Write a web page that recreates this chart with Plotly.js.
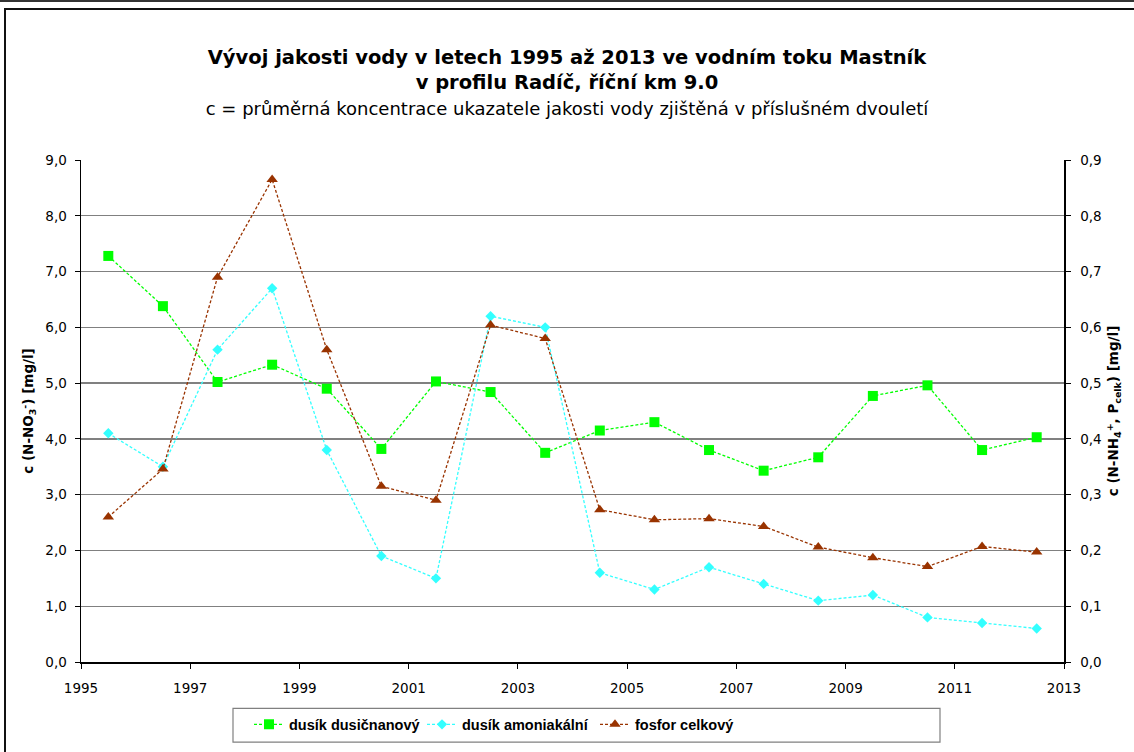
<!DOCTYPE html>
<html>
<head>
<meta charset="utf-8">
<script src="https://cdn.plot.ly/plotly-3.0.1.min.js"></script>
<style>
  html, body { margin: 0; padding: 0; background: #fff; }
  #chart { width: 1134px; height: 752px; position: absolute; left: 0; top: 0; }
  #topline { position: absolute; left: 0; top: 0; width: 1134px; height: 2px; background: #333; pointer-events: none; }
  #frame { position: absolute; left: 4px; top: 8px; width: 1140px; height: 760px; border: 2px solid #111; pointer-events: none; }
</style>
</head>
<body>
<div id="chart"></div>
<div id="topline"></div>
<div id="frame"></div>
<script>
// Data
const years = [1995.5, 1996.5, 1997.5, 1998.5, 1999.5, 2000.5, 2001.5, 2002.5, 2003.5,
               2004.5, 2005.5, 2006.5, 2007.5, 2008.5, 2009.5, 2010.5, 2011.5, 2012.5];
const dusikDusicnanovy = [7.28, 6.38, 5.02, 5.33, 4.90, 3.82, 5.03, 4.84, 3.75,
                          4.15, 4.30, 3.80, 3.43, 3.67, 4.77, 4.96, 3.80, 4.03];
const dusikAmoniakalni = [0.41, 0.35, 0.56, 0.67, 0.38, 0.19, 0.15, 0.62, 0.60,
                          0.16, 0.13, 0.17, 0.14, 0.11, 0.12, 0.08, 0.07, 0.06];
const fosforCelkovy = [0.26, 0.346, 0.69, 0.865, 0.56, 0.315, 0.29, 0.604, 0.58,
                       0.273, 0.255, 0.257, 0.243, 0.206, 0.187, 0.171, 0.207, 0.197];
const seriesNames = ['dusík dusičnanový', 'dusík amoniakální', 'fosfor celkový'];
const xTickVals = [1995, 1997, 1999, 2001, 2003, 2005, 2007, 2009, 2011, 2013];

const FONT = 'DejaVu Sans, Arial, sans-serif';
const LFONT = 'Liberation Sans, Arial, sans-serif';

// plot area in pixels (for positioning helpers)
const PL = 81, PR = 1064, PT = 160, PB = 668;
const px2x = p => (p - PL) / (PR - PL);
const px2y = p => (PB - p) / (PB - PT);

const traces = [
  {
    x: years, y: dusikDusicnanovy, name: seriesNames[0], type: 'scatter', mode: 'lines+markers',
    yaxis: 'y',
    line: { color: '#00FF00', width: 1.3, dash: '3px,2px' },
    marker: { symbol: 'square', size: 10, color: '#00FF00' }
  },
  {
    x: years, y: dusikAmoniakalni, name: seriesNames[1], type: 'scatter', mode: 'lines+markers',
    yaxis: 'y2',
    line: { color: '#33FFFF', width: 1.3, dash: '3px,2px' },
    marker: { symbol: 'diamond', size: 8, color: '#33FFFF' }
  },
  {
    x: years, y: fosforCelkovy, name: seriesNames[2], type: 'scatter', mode: 'lines+markers',
    yaxis: 'y2',
    line: { color: '#993300', width: 1.3, dash: '3px,2px' },
    marker: { symbol: 'triangle-up', size: 10, color: '#993300' }
  }
];

const layout = {
  width: 1134, height: 752,
  paper_bgcolor: '#fff', plot_bgcolor: '#fff',
  separators: ', ',
  margin: { l: PL, r: 1134 - PR, t: PT, b: 752 - PB },
  font: { family: FONT, size: 13, color: '#000' },
  title: {
    text: '<b>Vývoj jakosti vody v letech 1995 až 2013 ve vodním toku Mastník<br>v profilu Radíč, říční km 9.0</b><br><span style="font-size:18px">c = průměrná koncentrace ukazatele jakosti vody zjištěná v příslušném dvouletí</span>',
    font: { family: FONT, size: 19.5, color: '#000' },
    x: 0.5, xref: 'container', xanchor: 'center',
    y: 1 - 64 / 752, yref: 'container', yanchor: 'top'
  },
  xaxis: {
    range: [1995, 2013], tickvals: xTickVals, ticktext: xTickVals.map(String),
    showgrid: false, zeroline: false,
    showline: true, linecolor: '#000', linewidth: 1.5,
    ticks: 'outside', ticklen: 5, tickcolor: '#000',
    ticklabelstandoff: 8,
    tickfont: { family: FONT, size: 13.5, color: '#000' }
  },
  yaxis: {
    range: [0, 9], dtick: 1, tickformat: '.1f',
    showgrid: true, gridcolor: '#808080', gridwidth: 1.3, zeroline: false,
    showline: true, linecolor: '#000', linewidth: 1.5,
    ticks: 'outside', ticklen: 5, tickcolor: '#000',
    ticklabelstandoff: 5,
    tickfont: { family: FONT, size: 13.5, color: '#000' },
    title: { text: '<b>c (N-NO<sub>3</sub><sup>-</sup>) [mg/l]</b>', font: { family: FONT, size: 13.5, color: '#000' }, standoff: 8 }
  },
  yaxis2: {
    range: [0, 0.9], dtick: 0.1, tickformat: '.1f',
    overlaying: 'y', side: 'right',
    showgrid: false, zeroline: false,
    showline: true, linecolor: '#000', linewidth: 1.5,
    ticks: 'outside', ticklen: 5, tickcolor: '#000',
    ticklabelstandoff: 7,
    tickfont: { family: FONT, size: 13.5, color: '#000' },
    title: { text: '<b>c (N-NH<sub>4</sub><sup>+</sup>, P<sub>celk</sub>) [mg/l]</b>', font: { family: FONT, size: 13.5, color: '#000' }, standoff: 8 }
  },
  shapes: [
    { type: 'rect', xref: 'paper', yref: 'paper',
      x0: px2x(233), x1: px2x(940), y0: px2y(715), y1: px2y(749),
      line: { color: '#808080', width: 1.2 }, fillcolor: 'rgba(0,0,0,0)' }
  ],
  showlegend: true,
  legend: {
    orientation: 'h',
    x: px2x(249), xanchor: 'left',
    y: px2y(715), yanchor: 'top',
    borderwidth: 0, bgcolor: 'rgba(0,0,0,0)',
    font: { family: LFONT, size: 14.5, color: '#000', weight: 'bold' },
    entrywidth: 128, entrywidthmode: 'pixels',
    itemwidth: 30
  }
};

Plotly.newPlot('chart', traces, layout, { staticPlot: true, displayModeBar: false });
</script>
</body>
</html>
